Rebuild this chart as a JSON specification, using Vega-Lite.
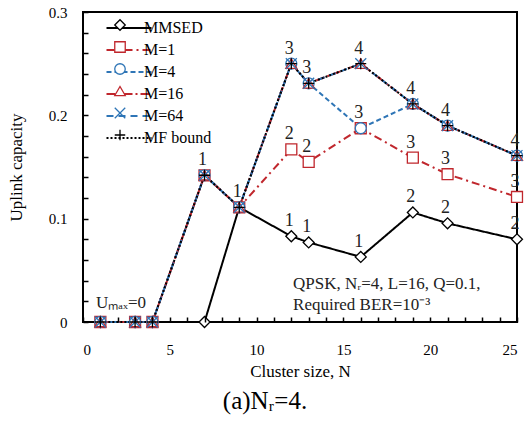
{
  "$schema": "https://vega.github.io/schema/vega-lite/v6.json",
  "width": 434,
  "height": 310,
  "autosize": {"type": "none"},
  "padding": {"left": 83, "top": 12, "right": 13, "bottom": 103},
  "background": "white",
  "title": {"text": "(a)Nᵣ=4.", "orient": "bottom", "anchor": "middle", "dx": -35, "offset": 10, "font": "Liberation Serif", "fontSize": 25, "fontWeight": "normal", "color": "black"},
  "config": {
    "font": "Liberation Serif",
    "view": {"stroke": "black", "strokeWidth": 2},
    "axis": {"grid": false, "labelFont": "Liberation Serif", "labelFontSize": 15, "labelColor": "black", "titleFont": "Liberation Serif", "titleFontSize": 17, "titleFontWeight": "normal", "titleColor": "black"}
  },
  "resolve": {"legend": {"color": "independent", "shape": "independent", "strokeDash": "independent"}},
  "datasets": {
    "curves": [
      {"series": "MMSED", "N": 1, "cap": 0}, {"series": "MMSED", "N": 3, "cap": 0}, {"series": "MMSED", "N": 4, "cap": 0}, {"series": "MMSED", "N": 7, "cap": 0},
      {"series": "MMSED", "N": 9, "cap": 0.111}, {"series": "MMSED", "N": 12, "cap": 0.083}, {"series": "MMSED", "N": 13, "cap": 0.077}, {"series": "MMSED", "N": 16, "cap": 0.063},
      {"series": "MMSED", "N": 19, "cap": 0.106}, {"series": "MMSED", "N": 21, "cap": 0.0955}, {"series": "MMSED", "N": 25, "cap": 0.08},
      {"series": "M=1", "N": 1, "cap": 0}, {"series": "M=1", "N": 3, "cap": 0}, {"series": "M=1", "N": 4, "cap": 0}, {"series": "M=1", "N": 7, "cap": 0.142},
      {"series": "M=1", "N": 9, "cap": 0.111}, {"series": "M=1", "N": 12, "cap": 0.167}, {"series": "M=1", "N": 13, "cap": 0.155}, {"series": "M=1", "N": 16, "cap": 0.1875},
      {"series": "M=1", "N": 19, "cap": 0.159}, {"series": "M=1", "N": 21, "cap": 0.143}, {"series": "M=1", "N": 25, "cap": 0.121},
      {"series": "M=4", "N": 1, "cap": 0}, {"series": "M=4", "N": 3, "cap": 0}, {"series": "M=4", "N": 4, "cap": 0}, {"series": "M=4", "N": 7, "cap": 0.142},
      {"series": "M=4", "N": 9, "cap": 0.111}, {"series": "M=4", "N": 12, "cap": 0.25}, {"series": "M=4", "N": 13, "cap": 0.231}, {"series": "M=4", "N": 16, "cap": 0.1875},
      {"series": "M=4", "N": 19, "cap": 0.211}, {"series": "M=4", "N": 21, "cap": 0.19}, {"series": "M=4", "N": 25, "cap": 0.161},
      {"series": "M=16", "N": 1, "cap": 0}, {"series": "M=16", "N": 3, "cap": 0}, {"series": "M=16", "N": 4, "cap": 0}, {"series": "M=16", "N": 7, "cap": 0.142},
      {"series": "M=16", "N": 9, "cap": 0.111}, {"series": "M=16", "N": 12, "cap": 0.25}, {"series": "M=16", "N": 13, "cap": 0.231}, {"series": "M=16", "N": 16, "cap": 0.25},
      {"series": "M=16", "N": 19, "cap": 0.211}, {"series": "M=16", "N": 21, "cap": 0.19}, {"series": "M=16", "N": 25, "cap": 0.161},
      {"series": "M=64", "N": 1, "cap": 0}, {"series": "M=64", "N": 3, "cap": 0}, {"series": "M=64", "N": 4, "cap": 0}, {"series": "M=64", "N": 7, "cap": 0.142},
      {"series": "M=64", "N": 9, "cap": 0.111}, {"series": "M=64", "N": 12, "cap": 0.25}, {"series": "M=64", "N": 13, "cap": 0.231}, {"series": "M=64", "N": 16, "cap": 0.25},
      {"series": "M=64", "N": 19, "cap": 0.211}, {"series": "M=64", "N": 21, "cap": 0.19}, {"series": "M=64", "N": 25, "cap": 0.161},
      {"series": "MF bound", "N": 1, "cap": 0}, {"series": "MF bound", "N": 3, "cap": 0}, {"series": "MF bound", "N": 4, "cap": 0}, {"series": "MF bound", "N": 7, "cap": 0.142},
      {"series": "MF bound", "N": 9, "cap": 0.111}, {"series": "MF bound", "N": 12, "cap": 0.25}, {"series": "MF bound", "N": 13, "cap": 0.231}, {"series": "MF bound", "N": 16, "cap": 0.25},
      {"series": "MF bound", "N": 19, "cap": 0.211}, {"series": "MF bound", "N": 21, "cap": 0.19}, {"series": "MF bound", "N": 25, "cap": 0.161}
    ],
    "labels": [
      {"N": 7, "cap": 0.142, "label": "1"}, {"N": 9, "cap": 0.111, "label": "1"},
      {"N": 12, "cap": 0.25, "label": "3"}, {"N": 13, "cap": 0.231, "label": "3"}, {"N": 16, "cap": 0.25, "label": "4"},
      {"N": 19, "cap": 0.211, "label": "4"}, {"N": 21, "cap": 0.19, "label": "4"}, {"N": 25, "cap": 0.161, "label": "4"},
      {"N": 16, "cap": 0.1875, "label": "3"},
      {"N": 12, "cap": 0.167, "label": "2"}, {"N": 13, "cap": 0.155, "label": "2"},
      {"N": 19, "cap": 0.159, "label": "3"}, {"N": 21, "cap": 0.143, "label": "3"}, {"N": 25, "cap": 0.121, "label": "3"},
      {"N": 12, "cap": 0.083, "label": "1"}, {"N": 13, "cap": 0.077, "label": "1"}, {"N": 16, "cap": 0.063, "label": "1"},
      {"N": 19, "cap": 0.106, "label": "2"}, {"N": 21, "cap": 0.0955, "label": "2"}, {"N": 25, "cap": 0.08, "label": "2"}
    ],
    "notes": [
      {"note": "QPSK, Nᵣ=4, L=16, Q=0.1,"}
    ]
  },
  "layer": [
    {
      "data": {"name": "curves"},
      "mark": {"type": "line", "strokeWidth": 2},
      "encoding": {
        "x": {"field": "N", "type": "quantitative", "scale": {"domain": [0, 25], "nice": false},
          "axis": {"title": "Cluster size, N", "values": [0,1,2,3,4,5,6,7,8,9,10,11,12,13,14,15,16,17,18,19,20,21,22,23,24,25], "labelExpr": "datum.value % 5 === 0 ? datum.label : ''", "labelOverlap": false, "ticks": true, "tickSize": 5, "tickWidth": 1.5, "tickColor": "black", "offset": -5, "domain": false, "zindex": 1, "labelPadding": 20, "titlePadding": 6}},
        "y": {"field": "cap", "type": "quantitative", "scale": {"domain": [0, 0.3], "nice": false},
          "axis": {"title": "Uplink capacity", "values": [0,0.02,0.04,0.06,0.08,0.1,0.12,0.14,0.16,0.18,0.2,0.22,0.24,0.26,0.28,0.3], "format": "~g", "labelExpr": "abs(datum.value*10 - round(datum.value*10)) < 0.001 ? datum.label : ''", "labelOverlap": false, "ticks": true, "tickSize": 5, "tickWidth": 1.5, "tickColor": "black", "offset": -5, "domain": false, "zindex": 1, "labelPadding": 16, "titlePadding": 23}},
        "color": {"field": "series", "type": "nominal",
          "scale": {"domain": ["MMSED", "M=1", "M=4", "M=16", "M=64", "MF bound"], "range": ["#000000", "#C0272D", "#2E75B6", "#C0272D", "#2E75B6", "#000000"]},
          "legend": {"orient": "none", "legendX": 12, "legendY": 8, "title": null, "padding": 0, "symbolType": "M1.4,0H19.4", "symbolSize": 25, "symbolStrokeWidth": 2, "labelOffset": 33, "labelFont": "Liberation Serif", "labelFontSize": 16, "labelColor": "black", "rowPadding": 6}},
        "strokeDash": {"field": "series", "type": "nominal",
          "scale": {"domain": ["MMSED", "M=1", "M=4", "M=16", "M=64", "MF bound"], "range": [[1, 0], [8, 4, 2, 4], [5, 3], [9, 3, 2, 3], [7, 5], [2, 2]]},
          "legend": {"orient": "none", "legendX": 12, "legendY": 8, "title": null, "padding": 0, "symbolType": "M1.4,0H19.4", "symbolSize": 25, "symbolStrokeWidth": 2, "labelOffset": 33, "labelFont": "Liberation Serif", "labelFontSize": 16, "labelColor": "black", "rowPadding": 6}}
      }
    },
    {
      "data": {"name": "curves"},
      "mark": {"type": "point", "filled": false, "fill": "white", "strokeWidth": 1.3, "opacity": 1, "size": 120},
      "encoding": {
        "x": {"field": "N", "type": "quantitative", "scale": {"domain": [0, 25], "nice": false},
          "axis": {"title": "Cluster size, N", "values": [0,1,2,3,4,5,6,7,8,9,10,11,12,13,14,15,16,17,18,19,20,21,22,23,24,25], "labelExpr": "datum.value % 5 === 0 ? datum.label : ''", "labelOverlap": false, "ticks": true, "tickSize": 5, "tickWidth": 1.5, "tickColor": "black", "offset": -5, "domain": false, "zindex": 1, "labelPadding": 20, "titlePadding": 6}},
        "y": {"field": "cap", "type": "quantitative", "scale": {"domain": [0, 0.3], "nice": false},
          "axis": {"title": "Uplink capacity", "values": [0,0.02,0.04,0.06,0.08,0.1,0.12,0.14,0.16,0.18,0.2,0.22,0.24,0.26,0.28,0.3], "format": "~g", "labelExpr": "abs(datum.value*10 - round(datum.value*10)) < 0.001 ? datum.label : ''", "labelOverlap": false, "ticks": true, "tickSize": 5, "tickWidth": 1.5, "tickColor": "black", "offset": -5, "domain": false, "zindex": 1, "labelPadding": 16, "titlePadding": 23}},
        "color": {"field": "series", "type": "nominal",
          "legend": {"orient": "none", "legendX": 29, "legendY": 5, "title": null, "padding": 0, "symbolSize": 110, "symbolStrokeWidth": 1.3, "symbolFillColor": "white", "labelExpr": "''", "labelFontSize": 16, "rowPadding": 6}},
        "shape": {"field": "series", "type": "nominal",
          "scale": {"domain": ["MMSED", "M=1", "M=4", "M=16", "M=64", "MF bound"], "range": ["diamond", "square", "circle", "triangle-up", "M-1,-1L1,1M-1,1L1,-1", "M-1,0L1,0M0,-1L0,1"]},
          "legend": {"orient": "none", "legendX": 29, "legendY": 5, "title": null, "padding": 0, "symbolSize": 110, "symbolStrokeWidth": 1.3, "symbolFillColor": "white", "labelExpr": "''", "labelFontSize": 16, "rowPadding": 6}}
      }
    },
    {
      "data": {"name": "labels"},
      "mark": {"type": "text", "dy": -15, "dx": -2, "fontSize": 18, "font": "Liberation Serif", "color": "#222222"},
      "encoding": {
        "x": {"field": "N", "type": "quantitative", "scale": {"domain": [0, 25], "nice": false},
          "axis": {"title": "Cluster size, N", "values": [0,1,2,3,4,5,6,7,8,9,10,11,12,13,14,15,16,17,18,19,20,21,22,23,24,25], "labelExpr": "datum.value % 5 === 0 ? datum.label : ''", "labelOverlap": false, "ticks": true, "tickSize": 5, "tickWidth": 1.5, "tickColor": "black", "offset": -5, "domain": false, "zindex": 1, "labelPadding": 20, "titlePadding": 6}},
        "y": {"field": "cap", "type": "quantitative", "scale": {"domain": [0, 0.3], "nice": false},
          "axis": {"title": "Uplink capacity", "values": [0,0.02,0.04,0.06,0.08,0.1,0.12,0.14,0.16,0.18,0.2,0.22,0.24,0.26,0.28,0.3], "format": "~g", "labelExpr": "abs(datum.value*10 - round(datum.value*10)) < 0.001 ? datum.label : ''", "labelOverlap": false, "ticks": true, "tickSize": 5, "tickWidth": 1.5, "tickColor": "black", "offset": -5, "domain": false, "zindex": 1, "labelPadding": 16, "titlePadding": 23}},
        "text": {"field": "label"}}
    },
    {
      "data": {"name": "notes"},
      "mark": {"type": "text", "align": "left", "baseline": "middle", "fontSize": 17, "font": "Liberation Serif", "color": "#222222"},
      "encoding": {
        "x": {"datum": 12.1, "type": "quantitative", "scale": {"domain": [0, 25], "nice": false},
          "axis": {"title": "Cluster size, N", "values": [0,1,2,3,4,5,6,7,8,9,10,11,12,13,14,15,16,17,18,19,20,21,22,23,24,25], "labelExpr": "datum.value % 5 === 0 ? datum.label : ''", "labelOverlap": false, "ticks": true, "tickSize": 5, "tickWidth": 1.5, "tickColor": "black", "offset": -5, "domain": false, "zindex": 1, "labelPadding": 20, "titlePadding": 6}},
        "y": {"datum": 0.037, "type": "quantitative", "scale": {"domain": [0, 0.3], "nice": false},
          "axis": {"title": "Uplink capacity", "values": [0,0.02,0.04,0.06,0.08,0.1,0.12,0.14,0.16,0.18,0.2,0.22,0.24,0.26,0.28,0.3], "format": "~g", "labelExpr": "abs(datum.value*10 - round(datum.value*10)) < 0.001 ? datum.label : ''", "labelOverlap": false, "ticks": true, "tickSize": 5, "tickWidth": 1.5, "tickColor": "black", "offset": -5, "domain": false, "zindex": 1, "labelPadding": 16, "titlePadding": 23}},
        "text": {"field": "note"}}
    },
    {
      "data": {"name": "notes"},
      "mark": {"type": "text", "align": "left", "baseline": "middle", "fontSize": 17, "font": "Liberation Serif", "color": "#222222"},
      "encoding": {
        "x": {"datum": 12.1, "type": "quantitative", "scale": {"domain": [0, 25], "nice": false},
          "axis": {"title": "Cluster size, N", "values": [0,1,2,3,4,5,6,7,8,9,10,11,12,13,14,15,16,17,18,19,20,21,22,23,24,25], "labelExpr": "datum.value % 5 === 0 ? datum.label : ''", "labelOverlap": false, "ticks": true, "tickSize": 5, "tickWidth": 1.5, "tickColor": "black", "offset": -5, "domain": false, "zindex": 1, "labelPadding": 20, "titlePadding": 6}},
        "y": {"datum": 0.016, "type": "quantitative", "scale": {"domain": [0, 0.3], "nice": false},
          "axis": {"title": "Uplink capacity", "values": [0,0.02,0.04,0.06,0.08,0.1,0.12,0.14,0.16,0.18,0.2,0.22,0.24,0.26,0.28,0.3], "format": "~g", "labelExpr": "abs(datum.value*10 - round(datum.value*10)) < 0.001 ? datum.label : ''", "labelOverlap": false, "ticks": true, "tickSize": 5, "tickWidth": 1.5, "tickColor": "black", "offset": -5, "domain": false, "zindex": 1, "labelPadding": 16, "titlePadding": 23}},
        "text": {"value": "Required BER=10⁻³"}}
    },
    {
      "data": {"name": "notes"},
      "mark": {"type": "text", "align": "left", "baseline": "middle", "fontSize": 17, "font": "Liberation Serif", "color": "#222222"},
      "encoding": {
        "x": {"datum": 0.75, "type": "quantitative", "scale": {"domain": [0, 25], "nice": false},
          "axis": {"title": "Cluster size, N", "values": [0,1,2,3,4,5,6,7,8,9,10,11,12,13,14,15,16,17,18,19,20,21,22,23,24,25], "labelExpr": "datum.value % 5 === 0 ? datum.label : ''", "labelOverlap": false, "ticks": true, "tickSize": 5, "tickWidth": 1.5, "tickColor": "black", "offset": -5, "domain": false, "zindex": 1, "labelPadding": 20, "titlePadding": 6}},
        "y": {"datum": 0.018, "type": "quantitative", "scale": {"domain": [0, 0.3], "nice": false},
          "axis": {"title": "Uplink capacity", "values": [0,0.02,0.04,0.06,0.08,0.1,0.12,0.14,0.16,0.18,0.2,0.22,0.24,0.26,0.28,0.3], "format": "~g", "labelExpr": "abs(datum.value*10 - round(datum.value*10)) < 0.001 ? datum.label : ''", "labelOverlap": false, "ticks": true, "tickSize": 5, "tickWidth": 1.5, "tickColor": "black", "offset": -5, "domain": false, "zindex": 1, "labelPadding": 16, "titlePadding": 23}},
        "text": {"value": "Uₘₐₓ=0"}}
    }
  ]
}
